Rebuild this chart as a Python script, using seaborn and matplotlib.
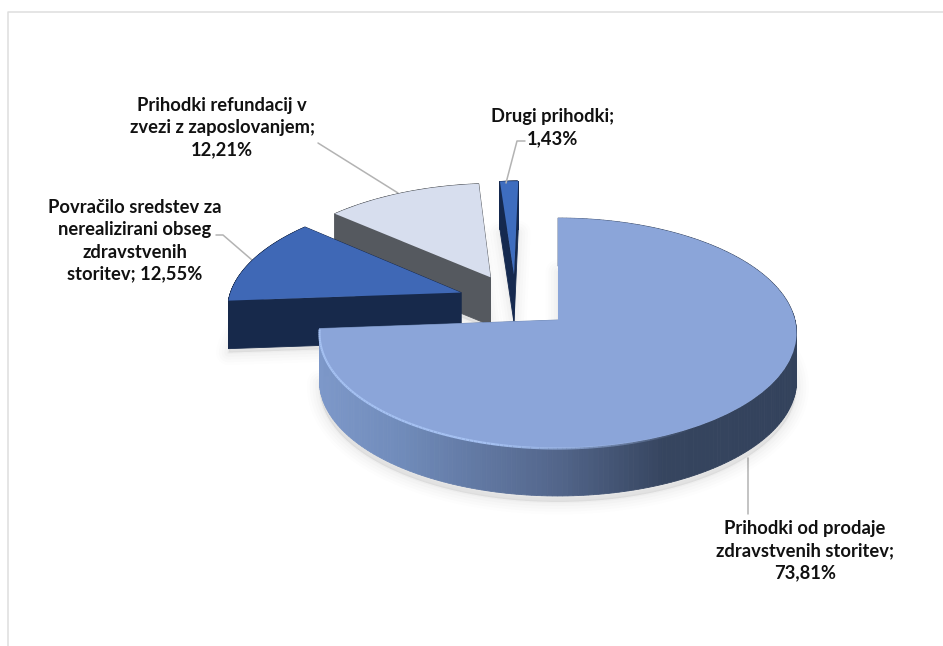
import numpy as np
import matplotlib
matplotlib.use("Agg")
import matplotlib.pyplot as plt
from matplotlib.colors import LinearSegmentedColormap
from matplotlib.transforms import Transform
import seaborn as sns

# ---- data ----
names = ["Prihodki od prodaje\nzdravstvenih storitev;",
         "Povračilo sredstev za\nnerealizirani obseg\nzdravstvenih\nstoritev;",
         "Prihodki refundacij v\nzvezi z zaposlovanjem;",
         "Drugi prihodki;"]
shares = [73.81, 12.55, 12.21, 1.43]
share_text = ["73,81%", "12,55%", "12,21%", "1,43%"]
joiners = ["\n", " ", "\n", "\n"]
explode = [0.25, 0.25, 0.25, 0.25]
top_colors = ["#8ba5d9", "#3f68b6", "#d7deee", "#3e6dbf"]
side_colors = [None, "#17294b", "#55595f", "#15294f"]

sns.set_theme(style="white")
plt.rcParams["font.family"] = ["Lato", "DejaVu Sans"]

W, H = 943, 646
fig = plt.figure(figsize=(W / 100, H / 100), dpi=100, facecolor="white")
ax = fig.add_axes([0, 0, 1, 1])

wedges, _ = ax.pie(shares, explode=explode, startangle=90, counterclock=False,
                   colors=top_colors, wedgeprops=dict(linewidth=0))
ax.set_aspect("auto")
ax.set_xlim(0, W)
ax.set_ylim(H, 0)
ax.axis("off")

# view parameters: the tilted, perspective look of the 3D pie
APEX_PX = (558.0, 320.0)
K, A, R = 0.113, 113.5, 237.0
DEPTH = 48.0
O = np.array(wedges[0].center)


def project(xy):
    xy = np.atleast_2d(xy)
    u, v = xy[:, 0] - O[0], xy[:, 1] - O[1]
    d = 1 + K * v
    return np.column_stack([APEX_PX[0] + R * u / d, APEX_PX[1] - A * v / d])


class Tilt(Transform):
    input_dims = output_dims = 2
    is_affine = False
    has_inverse = False

    def transform_non_affine(self, values):
        return project(values)


def outline(w, n=240):
    t = np.radians(np.linspace(w.theta1, w.theta2, n))
    arc = np.column_stack([np.cos(t), np.sin(t)]) * w.r + np.array(w.center)
    return np.vstack([np.array(w.center), arc, np.array(w.center)])


front_map = LinearSegmentedColormap.from_list(
    "front",
    [(0.0, "#7d98c9"), (0.17, "#708bba"), (0.5, "#52658a"),
     (0.72, "#36455f"), (1.0, "#33425c")])

tilt = Tilt()
for i in [3, 2, 1, 0]:
    w = wedges[i]
    z = (3 - i) * 2 + 2
    pts = project(outline(w))
    # soft shadow
    sx, sy = pts[:, 0], pts[:, 1] + DEPTH + 4
    if i == 0:
        sy = sy + 2
    for lw, a in [(18, 0.008), (14, 0.010), (10, 0.012), (6, 0.015), (2, 0.02)]:
        ax.fill(sx, sy, facecolor="black", edgecolor="black", alpha=a, lw=lw,
                zorder=z - 0.5, joinstyle="round")
    # extruded side
    for p, q in zip(pts[:-1], pts[1:]):
        xs = [p[0], q[0], q[0], p[0]]
        ys = [p[1], q[1], q[1] + DEPTH, p[1] + DEPTH]
        if side_colors[i] is None:
            col = front_map((0.5 * (p[0] + q[0]) - 320) / 480)
        else:
            col = side_colors[i]
        ax.fill(xs, ys, color=col, lw=0.6, zorder=z)
    # top face
    w.set_transform(tilt + ax.transData)
    w.set_zorder(z + 0.5)
    w.set_clip_on(False)

# bevel highlight on the front rim of the main slice, fading to the right
rim_t = np.radians(np.linspace(184.5, 300, 120))
rim = project(np.column_stack([np.cos(rim_t), np.sin(rim_t)]) * wedges[0].r + O)
fade = np.clip((300 - np.degrees(rim_t)) / 45, 0, 1)
for j in range(len(rim) - 1):
    ax.plot(rim[j:j + 2, 0], rim[j:j + 2, 1] + 0.5, color="#a5c1f2", lw=1.6,
            alpha=fade[j], zorder=9.6, solid_capstyle="butt")

# labels
label_pos = [(805, 551), (135, 241), (222, 128), (553, 128)]
for nm, tx, jn, (x, y) in zip(names, share_text, joiners, label_pos):
    ax.text(x, y, nm + jn + tx, ha="center", va="center", fontsize=13.2,
            fontweight="bold", color="#111111", linespacing=1.36, zorder=12)

# leader lines
leaders = [([748, 748], [458, 514]),
           ([216, 223, 252], [235, 235, 260]),
           ([318, 398], [143, 193]),
           ([525, 517, 506], [141, 141, 183])]
for xs, ys in leaders:
    ax.plot(xs, ys, color="#b3b3b3", lw=1.1, zorder=3)

# frame of the chart area
ax.plot([8, 8, W], [H, 12, 12], color="#dedede", lw=1.1, zorder=0)

fig.savefig("out.png", dpi=100, facecolor="white")
